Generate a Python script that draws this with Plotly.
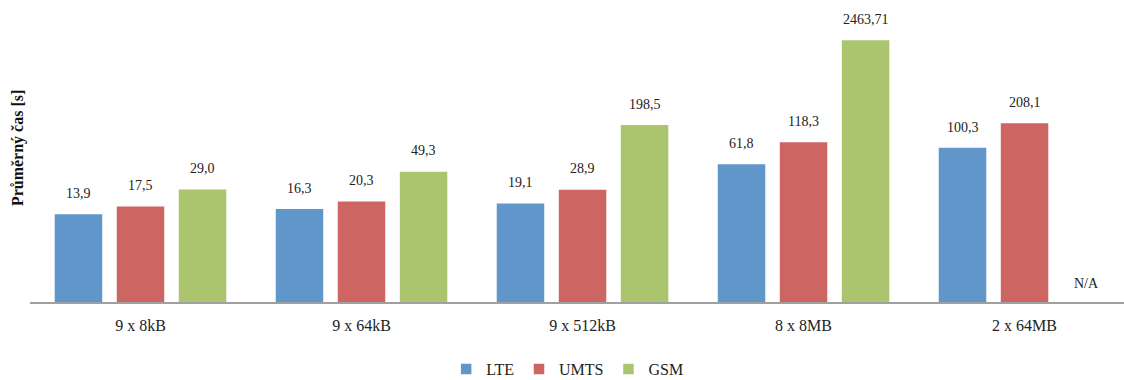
import math
import plotly.graph_objects as go

# Transfer scenarios and mean transfer time per network type (seconds)
categories = ["9 x 8kB", "9 x 64kB", "9 x 512kB", "8 x 8MB", "2 x 64MB"]
lte = [13.9, 16.3, 19.1, 61.8, 100.3]
umts = [17.5, 20.3, 28.9, 118.3, 208.1]
gsm = [29.0, 49.3, 198.5, 2463.71, None]

series = [
    ("LTE", lte, "#6096C9"),
    ("UMTS", umts, "#CD6662"),
    ("GSM", gsm, "#ABC46E"),
]

FONT = "Liberation Serif"
BAR_PITCH = 62  # px between neighbouring bars within a group

def fmt(v):
    return str(v).replace(".", ",")

fig = go.Figure()
annotations = []
for i, (name, vals, color) in enumerate(series):
    fig.add_trace(go.Bar(
        name=name,
        x=list(range(len(categories))),
        y=vals,
        marker=dict(color=color, line=dict(color="white", width=1.5)),
        hoverinfo="skip",
    ))
    offset = (i - 1) * BAR_PITCH
    for k, v in enumerate(vals):
        if v is None:
            annotations.append(dict(
                x=k, y=0, xref="x", yref="y", text="N/A", showarrow=False,
                xshift=offset, yshift=19,
                font=dict(family=FONT, size=14, color="#222"),
            ))
        else:
            annotations.append(dict(
                x=k, y=math.log10(v), xref="x", yref="y", text=fmt(v),
                showarrow=False, xshift=offset, yshift=20,
                font=dict(family=FONT, size=14, color="#222"),
            ))

annotations.append(dict(
    x=-0.011, y=0.527, xref="paper", yref="paper", text="<b>Průměrný čas [s]</b>",
    textangle=-90, showarrow=False, xanchor="center", yanchor="middle",
    font=dict(family=FONT, size=16, color="#111"),
))

fig.update_layout(
    width=1124, height=380,
    margin=dict(l=30, r=0, t=10, b=78, autoexpand=False),
    paper_bgcolor="white", plot_bgcolor="white",
    barmode="group", bargap=0.158, bargroupgap=0.21,
    showlegend=True,
    legend=dict(
        orientation="h", x=0.491, xanchor="center", y=-0.23, yanchor="middle",
        font=dict(family=FONT, size=16, color="#222"),
        itemwidth=30, traceorder="normal", tracegroupgap=0,
    ),
    annotations=annotations,
    xaxis=dict(
        tickmode="array", tickvals=list(range(len(categories))), ticktext=categories,
        range=[-0.5, 4.45], showgrid=False, zeroline=False,
        showline=True, linecolor="#A0A0A0", linewidth=2, ticks="",
        ticklabelstandoff=8,
        tickfont=dict(family=FONT, size=16, color="#222"),
    ),
    yaxis=dict(
        type="log", range=[0, 3.773], showgrid=False, zeroline=False,
        showline=False, showticklabels=False, ticks="",
    ),
)

fig.write_html("out.html")
